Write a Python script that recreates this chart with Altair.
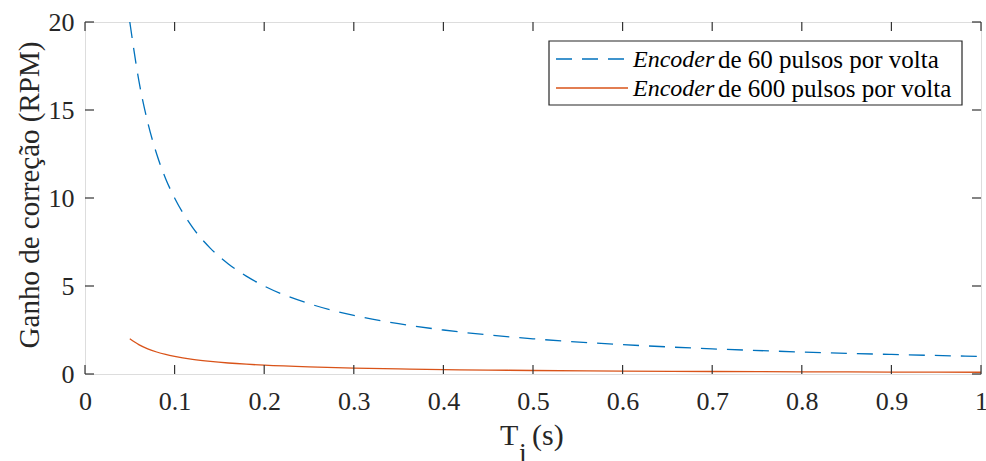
import altair as alt
import pandas as pd

# ---- data ----
ti = [0.05, 0.06, 0.07, 0.08, 0.09, 0.10, 0.12, 0.14, 0.16, 0.18, 0.20, 0.25,
      0.30, 0.35, 0.40, 0.45, 0.50, 0.60, 0.70, 0.80, 0.90, 1.00]
gain_60 = [20.0, 16.7, 14.3, 12.5, 11.1, 10.0, 8.33, 7.14, 6.25, 5.56, 5.0, 4.0,
           3.33, 2.86, 2.5, 2.22, 2.0, 1.67, 1.43, 1.25, 1.11, 1.0]
gain_600 = [2.0, 1.67, 1.43, 1.25, 1.11, 1.0, 0.833, 0.714, 0.625, 0.556, 0.5, 0.4,
            0.333, 0.286, 0.25, 0.222, 0.2, 0.167, 0.143, 0.125, 0.111, 0.1]
series_names = ["Encoder de 60 pulsos por volta", "Encoder de 600 pulsos por volta"]
x_ticks = [0, 0.1, 0.2, 0.3, 0.4, 0.5, 0.6, 0.7, 0.8, 0.9, 1.0]
y_ticks = [0, 5, 10, 15, 20]

BLUE = "#0072BD"
ORANGE = "#D95319"
AX = "#333333"
TXT = "#262626"
FONT = "Liberation Serif"
W, H = 896, 352

df60 = pd.DataFrame({"ti": ti, "g": gain_60})
df600 = pd.DataFrame({"ti": ti, "g": gain_600})
xt = pd.DataFrame({"v": x_ticks})
yt = pd.DataFrame({"v": y_ticks})

xs = alt.Scale(domain=[0, 1], nice=False, zero=False)
ys = alt.Scale(domain=[0, 20], nice=False, zero=False)

xaxis = alt.Axis(values=x_ticks, format="~g", title=None, grid=False, domain=False,
                 ticks=False, labelFont=FONT, labelFontSize=26, labelColor=TXT,
                 labelPadding=14, labelFlush=False)
yaxis = alt.Axis(values=y_ticks, title=None, grid=False, domain=False, ticks=False,
                 labelFont=FONT, labelFontSize=26, labelColor=TXT,
                 labelPadding=11)

line60 = alt.Chart(df60).mark_line(color=BLUE, strokeWidth=1.3, strokeDash=[16, 10],
                                   interpolate="monotone", clip=True).encode(
    x=alt.X("ti:Q", scale=xs, axis=xaxis),
    y=alt.Y("g:Q", scale=ys, axis=yaxis),
)
line600 = alt.Chart(df600).mark_line(color=ORANGE, strokeWidth=1.3,
                                     interpolate="monotone", clip=True).encode(
    x=alt.X("ti:Q", scale=xs),
    y=alt.Y("g:Q", scale=ys),
)

# inward ticks on all four sides
tick_bottom = alt.Chart(xt).mark_rule(color=AX, strokeWidth=1.2).encode(
    x=alt.X("v:Q", scale=xs), y=alt.value(H), y2=alt.value(H - 9))
tick_top = alt.Chart(xt).mark_rule(color=AX, strokeWidth=1.2).encode(
    x=alt.X("v:Q", scale=xs), y=alt.value(0), y2=alt.value(9))
tick_left = alt.Chart(yt).mark_rule(color=AX, strokeWidth=1.2).encode(
    y=alt.Y("v:Q", scale=ys), x=alt.value(0), x2=alt.value(9))
tick_right = alt.Chart(yt).mark_rule(color=AX, strokeWidth=1.2).encode(
    y=alt.Y("v:Q", scale=ys), x=alt.value(W), x2=alt.value(W - 9))

one = alt.Data(values=[{"a": 1}])

# legend
leg_box = alt.Chart(one).mark_rect(fill="white", stroke="#262626", strokeWidth=1.2).encode(
    x=alt.value(464), x2=alt.value(877), y=alt.value(19), y2=alt.value(83))
leg_l1 = alt.Chart(one).mark_rule(color=BLUE, strokeWidth=1.3, strokeDash=[16, 10]).encode(
    x=alt.value(471), x2=alt.value(543), y=alt.value(37))
leg_l2 = alt.Chart(one).mark_rule(color=ORANGE, strokeWidth=1.3).encode(
    x=alt.value(471), x2=alt.value(543), y=alt.value(66))
leg_t1a = alt.Chart(one).mark_text(text="Encoder", font=FONT, fontSize=24, fontStyle="italic",
                                   align="left", baseline="middle", color="black").encode(
    x=alt.value(548), y=alt.value(38))
leg_t1b = alt.Chart(one).mark_text(text="de 60 pulsos por volta", font=FONT, fontSize=25,
                                   align="left", baseline="middle", color="black").encode(
    x=alt.value(633), y=alt.value(38))
leg_t2a = alt.Chart(one).mark_text(text="Encoder", font=FONT, fontSize=24, fontStyle="italic",
                                   align="left", baseline="middle", color="black").encode(
    x=alt.value(548), y=alt.value(67))
leg_t2b = alt.Chart(one).mark_text(text="de 600 pulsos por volta", font=FONT, fontSize=25,
                                   align="left", baseline="middle", color="black").encode(
    x=alt.value(633), y=alt.value(67))

# axis titles
ytitle = alt.Chart(one).mark_text(text="Ganho de correção (RPM)", font=FONT, fontSize=29,
                                  angle=270, align="center", baseline="middle",
                                  color=TXT).encode(x=alt.value(-55), y=alt.value(173))
xt_T = alt.Chart(one).mark_text(text="T", font=FONT, fontSize=30, align="left",
                                baseline="alphabetic", color=TXT).encode(
    x=alt.value(415), y=alt.value(423))
xt_i = alt.Chart(one).mark_text(text="i", font=FONT, fontSize=28, align="left",
                                baseline="alphabetic", color=TXT).encode(
    x=alt.value(434), y=alt.value(440))
xt_s = alt.Chart(one).mark_text(text="(s)", font=FONT, fontSize=30, align="left",
                                baseline="alphabetic", color=TXT).encode(
    x=alt.value(447), y=alt.value(423))

chart = alt.layer(
    line60, line600, tick_bottom, tick_top, tick_left, tick_right,
    leg_box, leg_l1, leg_l2, leg_t1a, leg_t1b, leg_t2a, leg_t2b,
    ytitle, xt_T, xt_i, xt_s,
).properties(
    width=W, height=H,
    autosize=alt.AutoSizeParams(type="none"),
    padding={"left": 85, "top": 22, "right": 5, "bottom": 87},
    background="white",
).configure_view(
    stroke=AX, strokeWidth=1.3
).configure(font=FONT)

chart.save("out.html", embed_options={"renderer": "svg", "actions": False})
